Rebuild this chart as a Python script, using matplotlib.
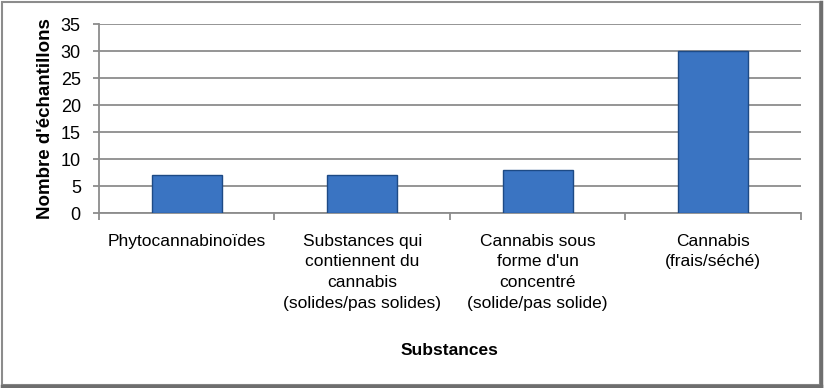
import numpy as np
import matplotlib.pyplot as plt
from matplotlib.patches import Rectangle

categories = ["Phytocannabinoïdes",
              "Substances qui\ncontiennent du\ncannabis\n(solides/pas solides)",
              "Cannabis sous\nforme d'un\nconcentré\n(solide/pas solide)",
              "Cannabis\n(frais/séché)"]
counts = [7, 7, 8, 30]
yticks = [0, 5, 10, 15, 20, 25, 30, 35]

plt.rcParams['font.family'] = ['Liberation Sans', 'DejaVu Sans']

fig = plt.figure(figsize=(8.24, 3.88), dpi=100)
ax = fig.add_axes([0.120, 0.451, 0.852, 0.487])

x = np.arange(len(categories))
ax.bar(x, counts, width=0.4, color="#3a74c2", edgecolor="#1d4a85", linewidth=1.0, zorder=3)

ax.set_xlim(-0.5, len(categories) - 0.5)
ax.set_ylim(0, 35)
ax.set_yticks(yticks)
ax.yaxis.grid(True, color="#8c8c8c", linewidth=1.3, zorder=0)
ax.set_xticks(x)
ax.set_xticklabels(categories, fontsize=12.5, linespacing=1.47)
ax.set_xticks(np.arange(len(categories) + 1) - 0.5, minor=True)
ax.tick_params(axis="x", which="major", length=0, pad=15)
ax.tick_params(axis="x", which="minor", length=5, color="#8c8c8c", width=1.3)
ax.tick_params(axis="y", length=4, color="#8c8c8c", width=1.3, labelsize=13, pad=9)

for s in ["top", "right"]:
    ax.spines[s].set_visible(False)
for s in ["left", "bottom"]:
    ax.spines[s].set_color("#8c8c8c")
    ax.spines[s].set_linewidth(1.3)

ax.set_ylabel("Nombre d'échantillons", fontsize=13.5, fontweight="bold", labelpad=5)
ax.set_xlabel("Substances", fontsize=12.5, fontweight="bold", labelpad=23)

# cadre du graphique
fig.patches.append(Rectangle((0.003, 0.008), 0.992, 0.986, transform=fig.transFigure,
                             fill=False, edgecolor="#8c8c8c", linewidth=1.5))
fig.lines.append(plt.Line2D([0.996, 0.996], [0.005, 0.994], transform=fig.transFigure,
                            color="#6e6e6e", linewidth=2.5))
fig.lines.append(plt.Line2D([0.003, 0.996], [0.006, 0.006], transform=fig.transFigure,
                            color="#6e6e6e", linewidth=2.5))

fig.savefig("out.png", dpi=100)
